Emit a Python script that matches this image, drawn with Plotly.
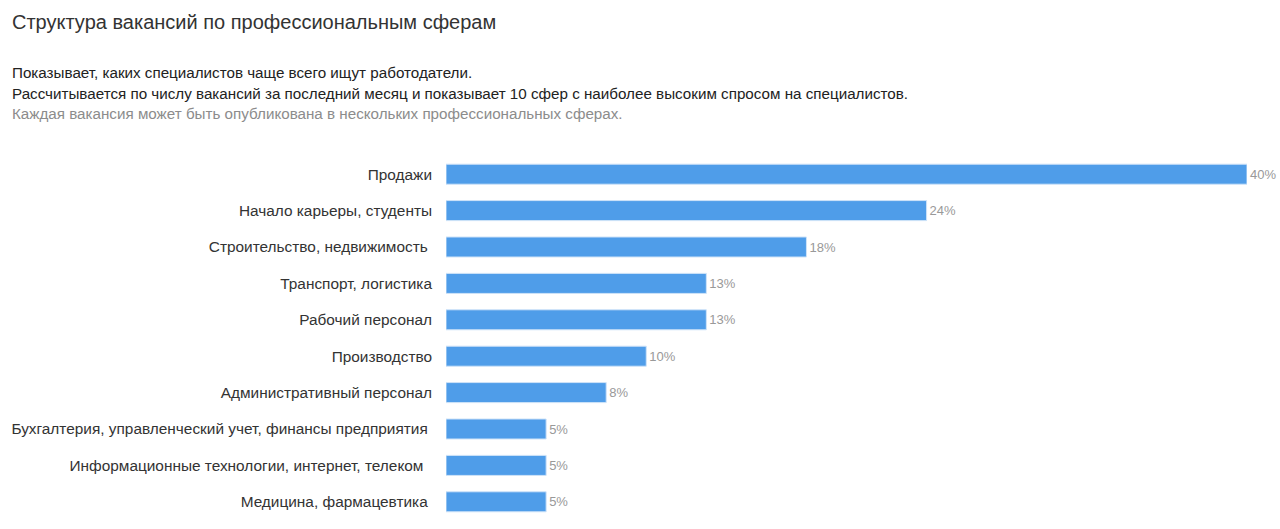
import plotly.graph_objects as go

categories = [
    "Продажи",
    "Начало карьеры, студенты",
    "Строительство, недвижимость ",
    "Транспорт, логистика",
    "Рабочий персонал",
    "Производство",
    "Административный персонал",
    "Бухгалтерия, управленческий учет, финансы предприятия ",
    "Информационные технологии, интернет, телеком  ",
    "Медицина, фармацевтика ",
]
values = [40, 24, 18, 13, 13, 10, 8, 5, 5, 5]
value_labels = ["40%", "24%", "18%", "13%", "13%", "10%", "8%", "5%", "5%", "5%"]

title = "Структура вакансий по профессиональным сферам"
subtitle_lines = [
    "Показывает, каких специалистов чаще всего ищут работодатели.",
    "Рассчитывается по числу вакансий за последний месяц и показывает 10 сфер с наиболее высоким спросом на специалистов.",
]
note = "Каждая вакансия может быть опубликована в нескольких профессиональных сферах."

FONT = "Liberation Sans, Arial, sans-serif"

fig = go.Figure(
    go.Bar(
        x=values,
        y=categories,
        orientation="h",
        marker=dict(color="#4f9de9", line=dict(color="#cfe3f8", width=1)),
        text=value_labels,
        textposition="outside",
        textfont=dict(family=FONT, size=13, color="#999999"),
        cliponaxis=False,
        hoverinfo="skip",
    )
)

fig.update_layout(
    width=1280,
    height=529,
    margin=dict(l=446, r=33, t=156, b=9),
    paper_bgcolor="white",
    plot_bgcolor="white",
    showlegend=False,
    bargap=0.45,
    xaxis=dict(range=[0, 40], visible=False, fixedrange=True),
    yaxis=dict(
        autorange="reversed",
        showgrid=False,
        zeroline=False,
        showline=False,
        ticks="",
        ticklabelstandoff=13,
        tickfont=dict(family=FONT, size=15.4, color="#333333"),
        fixedrange=True,
    ),
    font=dict(family=FONT),
)

plot_h = 529 - 156 - 9
plot_w = 1280 - 446 - 33
def px_to_paper_y(ypx):
    return (529 - 9 - ypx) / plot_h
def px_to_paper_x(xpx):
    return (xpx - 446) / plot_w

fig.add_annotation(
    text=title, xref="paper", yref="paper",
    x=px_to_paper_x(10), y=px_to_paper_y(22), xanchor="left", yanchor="middle",
    showarrow=False, font=dict(family=FONT, size=20, color="#333333"),
)
ann = [
    (subtitle_lines[0], "#222222", 73),
    (subtitle_lines[1], "#222222", 94),
    (note, "#8c8c8c", 114),
]
for txt, col, ypx in ann:
    fig.add_annotation(
        text=txt, xref="paper", yref="paper",
        x=px_to_paper_x(10), y=px_to_paper_y(ypx), xanchor="left", yanchor="middle",
        showarrow=False, font=dict(family=FONT, size=15.2, color=col),
    )

fig.write_html("out.html")
